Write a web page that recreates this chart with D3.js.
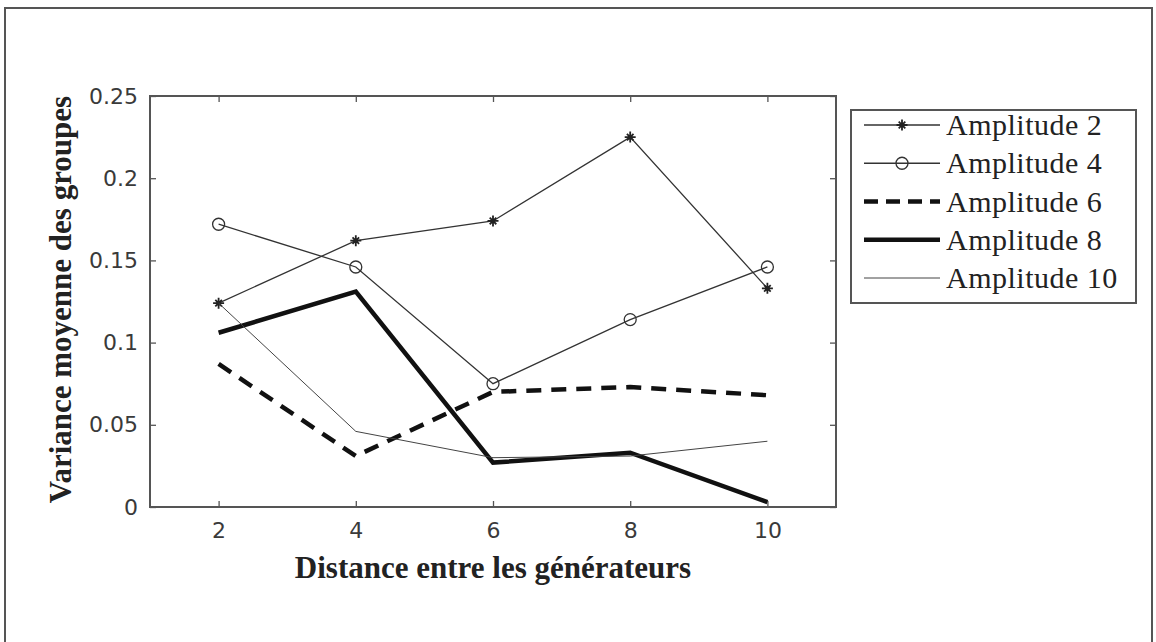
<!DOCTYPE html>
<html>
<head>
<meta charset="utf-8">
<script src="https://cdn.jsdelivr.net/npm/d3@7"></script>
<style>
  html, body { margin: 0; padding: 0; background: #fff; }
  svg { display: block; }
</style>
</head>
<body>
<script>
// Distance between generators (x) and mean group variance per amplitude
const distances = [2, 4, 6, 8, 10];
const amplitude2  = [0.124, 0.162, 0.174, 0.225, 0.133];
const amplitude4  = [0.172, 0.146, 0.075, 0.114, 0.146];
const amplitude6  = [0.087, 0.031, 0.070, 0.073, 0.068];
const amplitude8  = [0.106, 0.131, 0.027, 0.033, 0.003];
const amplitude10 = [0.124, 0.046, 0.030, 0.031, 0.040];
const seriesNames = ["Amplitude 2", "Amplitude 4", "Amplitude 6", "Amplitude 8", "Amplitude 10"];
const yTicks = [0, 0.05, 0.1, 0.15, 0.2, 0.25];
const yTickLabels = ["0", "0.05", "0.1", "0.15", "0.2", "0.25"];
const xTicks = [2, 4, 6, 8, 10];
const xTitle = "Distance entre les générateurs";
const yTitle = "Variance moyenne des groupes";

const W = 1156, H = 642;
const svg = d3.select("body").append("svg").attr("width", W).attr("height", H);

// outer figure frame (runs past the bottom edge)
svg.append("rect")
  .attr("x", 5).attr("y", 8).attr("width", 1147).attr("height", 660)
  .attr("fill", "#fff").attr("stroke", "#555").attr("stroke-width", 2);

const plot = { left: 150, right: 836, top: 96, bottom: 507 };
const x = d3.scaleLinear().domain([1, 11]).range([plot.left, plot.right]);
const y = d3.scaleLinear().domain([0, 0.25]).range([plot.bottom, plot.top]);

const tickFont = "'DejaVu Sans', sans-serif";
const serif = "'Liberation Serif', 'Times New Roman', serif";

// axes with inward ticks on all four sides
const gx = svg.append("g").attr("transform", `translate(0,${plot.bottom})`)
  .call(d3.axisBottom(x).tickValues(xTicks).tickFormat(d3.format("d"))
    .tickSizeInner(-6).tickSizeOuter(0).tickPadding(15));
const gy = svg.append("g").attr("transform", `translate(${plot.left},0)`)
  .call(d3.axisLeft(y).tickValues(yTicks).tickFormat((d, i) => yTickLabels[i])
    .tickSizeInner(-6).tickSizeOuter(0).tickPadding(12));
const gt = svg.append("g").attr("transform", `translate(0,${plot.top})`)
  .call(d3.axisTop(x).tickValues(xTicks).tickFormat("").tickSizeInner(-6).tickSizeOuter(0));
const gr = svg.append("g").attr("transform", `translate(${plot.right},0)`)
  .call(d3.axisRight(y).tickValues(yTicks).tickFormat("").tickSizeInner(-6).tickSizeOuter(0));

[gx, gy, gt, gr].forEach(g => {
  g.select(".domain").remove();
  g.selectAll(".tick line").attr("stroke", "#555").attr("stroke-width", 1.3);
  g.selectAll(".tick text").attr("font-family", tickFont).attr("font-size", 22).attr("fill", "#3a3a3a");
});

// plot box
svg.append("rect")
  .attr("x", plot.left).attr("y", plot.top)
  .attr("width", plot.right - plot.left).attr("height", plot.bottom - plot.top)
  .attr("fill", "none").attr("stroke", "#555").attr("stroke-width", 2);

// series styles
const styles = [
  { values: amplitude2,  width: 1.3, color: "#333", dash: null,    marker: "star" },
  { values: amplitude4,  width: 1.3, color: "#333", dash: null,    marker: "circle" },
  { values: amplitude6,  width: 4.5, color: "#111", dash: "15,10", marker: null },
  { values: amplitude8,  width: 4.5, color: "#111", dash: null,    marker: null },
  { values: amplitude10, width: 1.0, color: "#444", dash: null,    marker: null }
];

const line = d3.line().x((d, i) => x(distances[i])).y(d => y(d));

function drawMarker(g, kind, cx, cy) {
  if (kind === "star") {
    const r = 5.5;
    const p = d3.path();
    p.moveTo(cx - r, cy); p.lineTo(cx + r, cy);
    p.moveTo(cx, cy - r); p.lineTo(cx, cy + r);
    const s = r * 0.6;
    p.moveTo(cx - s, cy - s); p.lineTo(cx + s, cy + s);
    p.moveTo(cx - s, cy + s); p.lineTo(cx + s, cy - s);
    g.append("path").attr("d", p.toString())
      .attr("stroke", "#222").attr("stroke-width", 1.8).attr("fill", "none");
    g.append("circle").attr("cx", cx).attr("cy", cy).attr("r", 2.2).attr("fill", "#222");
  } else if (kind === "circle") {
    g.append("circle").attr("cx", cx).attr("cy", cy).attr("r", 6)
      .attr("fill", "none").attr("stroke", "#333").attr("stroke-width", 1.3);
  }
}

const gLines = svg.append("g");
styles.forEach(s => {
  gLines.append("path").datum(s.values)
    .attr("d", line)
    .attr("fill", "none")
    .attr("stroke", s.color)
    .attr("stroke-width", s.width)
    .attr("stroke-dasharray", s.dash)
    .attr("stroke-linejoin", "miter");
  if (s.marker) {
    s.values.forEach((v, i) => drawMarker(gLines, s.marker, x(distances[i]), y(v)));
  }
});

// axis titles
svg.append("text")
  .attr("x", (plot.left + plot.right) / 2).attr("y", 578)
  .attr("text-anchor", "middle")
  .attr("font-family", serif).attr("font-weight", "bold").attr("font-size", 31)
  .attr("fill", "#222")
  .text(xTitle);

svg.append("text")
  .attr("transform", `translate(71,${(plot.top + plot.bottom) / 2 - 2}) rotate(-90)`)
  .attr("text-anchor", "middle")
  .attr("font-family", serif).attr("font-weight", "bold").attr("font-size", 31)
  .attr("fill", "#222")
  .text(yTitle);

// legend
const leg = { left: 851, top: 110, right: 1136, bottom: 303 };
svg.append("rect")
  .attr("x", leg.left).attr("y", leg.top)
  .attr("width", leg.right - leg.left).attr("height", leg.bottom - leg.top)
  .attr("fill", "#fff").attr("stroke", "#555").attr("stroke-width", 2);

const rowY = d3.scalePoint().domain(seriesNames).range([125, 278]);
seriesNames.forEach((name, i) => {
  const s = styles[i];
  const yy = rowY(name);
  svg.append("line")
    .attr("x1", 864).attr("x2", 940).attr("y1", yy).attr("y2", yy)
    .attr("stroke", s.color).attr("stroke-width", s.width)
    .attr("stroke-dasharray", s.dash ? "14,8" : null);
  if (s.marker) drawMarker(svg, s.marker, 902, yy);
  svg.append("text")
    .attr("x", 946).attr("y", yy + 10)
    .attr("font-family", serif).attr("font-size", 30)
    .attr("letter-spacing", 0.5)
    .attr("fill", "#222")
    .text(name);
});
</script>
</body>
</html>
